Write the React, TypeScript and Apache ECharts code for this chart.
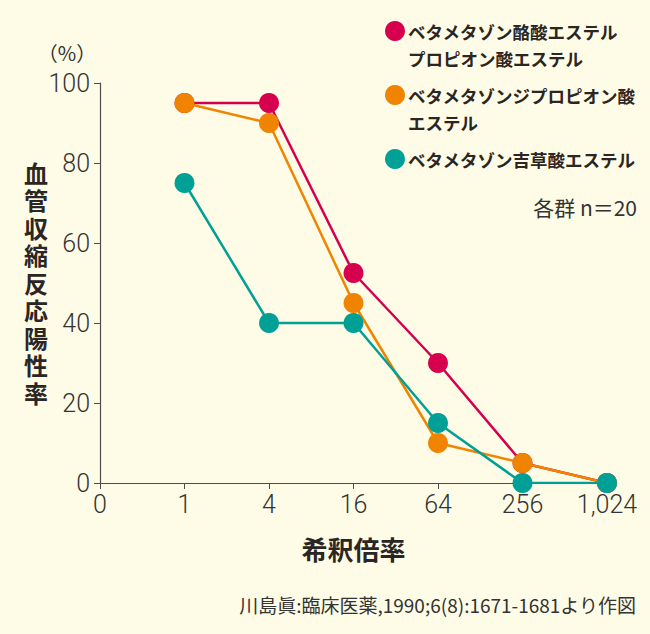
import React, { useEffect, useRef } from "react";
import * as echarts from "echarts";

const categories = ["0", "1", "4", "16", "64", "256", "1,024"];
const butyratePropionate = [null, 95, 95, 52.5, 30, 5, 0];
const dipropionate = [null, 95, 90, 45, 10, 5, 0];
const valerate = [null, 75, 40, 40, 15, 0, 0];
const yTicks = { min: 0, max: 100, interval: 20 };

const seriesNames = [
  "ベタメタゾン酪酸エステル\nプロピオン酸エステル",
  "ベタメタゾンジプロピオン酸\nエステル",
  "ベタメタゾン吉草酸エステル",
];
const yTitle = "血管収縮反応陽性率";
const colors = ["#d6004f", "#f08300", "#00a096"];

const cjk = "'Noto Sans CJK JP', 'Noto Sans', sans-serif";
const num = "Roboto, 'Noto Sans', sans-serif";
const textColor = "#2b2523";

export default function App() {
  const ref = useRef<HTMLDivElement>(null);
  useEffect(() => {
    document.body.style.margin = "0";
    if (!ref.current) return;
    const chart = echarts.init(ref.current, undefined, { renderer: "svg" });
    const datasets = [butyratePropionate, dipropionate, valerate];
    const legendY = [31, 95, 159];
    const legendGraphics: any[] = [];
    seriesNames.forEach((n, i) => {
      legendGraphics.push({
        type: "circle",
        shape: { cx: 395, cy: legendY[i], r: 10 },
        style: { fill: colors[i] },
      });
      n.split("\n").forEach((line, j) => {
        legendGraphics.push({
          type: "text",
          x: 408,
          y: legendY[i] + j * 27.5,
          style: {
            text: line,
            font: `bold 17.5px ${cjk}`,
            fill: textColor,
            textVerticalAlign: "middle",
          },
        });
      });
    });
    const yTitleGraphics = yTitle.split("").map((ch, i) => ({
      type: "text",
      x: 36,
      y: 172 + i * 27.5,
      style: {
        text: ch,
        font: `bold 24px ${cjk}`,
        fill: textColor,
        textAlign: "center",
        textVerticalAlign: "middle",
      },
    }));
    chart.setOption({
      animation: false,
      backgroundColor: "#fefce6",
      grid: { left: 100, right: 43, top: 83, bottom: 151 },
      xAxis: {
        type: "category",
        data: categories,
        boundaryGap: false,
        axisLine: { lineStyle: { color: "#4d4d4d", width: 1.2 } },
        axisTick: { show: true, length: 6, lineStyle: { color: "#4d4d4d" } },
        axisLabel: {
          color: "#333",
          fontFamily: num,
          fontSize: 25,
          margin: 9,
          fontWeight: 300,
        },
        name: "希釈倍率",
        nameLocation: "middle",
        nameGap: 52,
        nameTextStyle: {
          color: textColor,
          fontFamily: cjk,
          fontSize: 26,
          fontWeight: "bold",
        },
      },
      yAxis: {
        type: "value",
        min: yTicks.min,
        max: yTicks.max,
        interval: yTicks.interval,
        splitLine: { show: false },
        axisLine: { show: true, lineStyle: { color: "#4d4d4d", width: 1.2 } },
        axisTick: { show: true, length: 6, lineStyle: { color: "#4d4d4d" } },
        axisLabel: {
          color: "#333",
          fontFamily: num,
          fontSize: 25,
          margin: 10,
          fontWeight: 300,
        },
      },
      series: datasets.map((d, i) => ({
        type: "line",
        name: seriesNames[i],
        data: d,
        symbol: "circle",
        symbolSize: 20,
        lineStyle: { color: colors[i], width: 2.5 },
        itemStyle: { color: colors[i] },
        z: 2 + i,
      })),
      graphic: [
        ...legendGraphics,
        ...yTitleGraphics,
        {
          type: "text",
          x: 637,
          y: 207,
          style: {
            text: "各群 n＝20",
            font: `21px ${cjk}`,
            fill: "#333",
            textAlign: "right",
            textVerticalAlign: "middle",
          },
        },
        {
          type: "text",
          x: 67,
          y: 52,
          style: {
            text: "（%）",
            font: `20px ${cjk}`,
            fill: "#333",
            textAlign: "center",
            textVerticalAlign: "middle",
          },
        },
        {
          type: "text",
          x: 636,
          y: 604,
          style: {
            text: "川島眞:臨床医薬,1990;6(8):1671-1681より作図",
            font: `19px ${cjk}`,
            fill: "#333",
            textAlign: "right",
            textVerticalAlign: "middle",
          },
        },
      ],
    });
    return () => chart.dispose();
  }, []);
  return <div ref={ref} style={{ width: 650, height: 634 }} />;
}
